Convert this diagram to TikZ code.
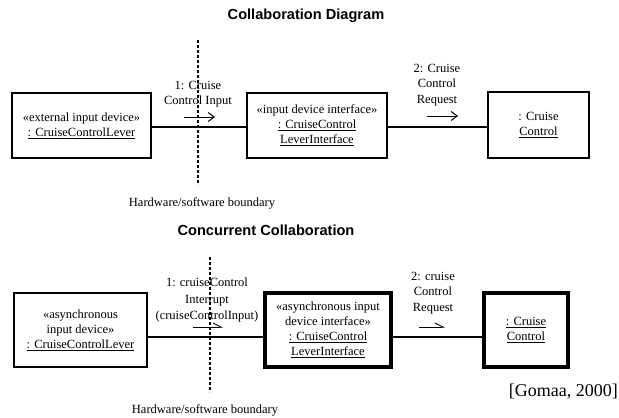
\documentclass[tikz,border=0pt]{standalone}
\usepackage{fontspec}
\setmainfont{Liberation Serif}
\setsansfont{Liberation Sans}
\usetikzlibrary{arrows.meta}

\begin{document}
\begin{tikzpicture}[x=1pt,y=-1pt,
  obj/.style={draw,line width=1.3pt,align=center,inner sep=0pt,
    font=\fontsize{12.5}{15}\selectfont},
  active/.style={obj,line width=3.2pt},
  lbl/.style={align=center,inner sep=0pt,font=\fontsize{12.5}{15.5}\selectfont},
  heading/.style={inner sep=0pt,font=\sffamily\bfseries\fontsize{14.6}{16}\selectfont},
  link/.style={line width=1.1pt},
  boundary/.style={line width=1.3pt,dash pattern=on 3pt off 2pt},
  msg/.style={line width=1pt,-{Straight Barb[length=6pt,width=9pt]}},
  asyncmsg/.style={line width=1pt,-{Straight Barb[left,length=8pt,width=8pt]}}
]
\useasboundingbox (0,0) rectangle (619,418);

% ---------- sequential collaboration ----------
\node[heading] (t1) at (306,16) {Collaboration Diagram};

\node[obj,minimum width=139pt,minimum height=65pt] (lever) at (81.5,125.5)
  {«external input device»\\\underline{: CruiseControlLever}};
\node[obj,minimum width=140pt,minimum height=65pt] (ldi) at (317,125.5)
  {«input device interface»\\\underline{: CruiseControl}\\\underline{LeverInterface}};
\node[obj,minimum width=101pt,minimum height=66pt] (cc) at (538.5,125)
  {: Cruise\\\underline{Control}};

\coordinate (row1) at (0,127);
\draw[link] (lever.east |- row1) -- (ldi.west |- row1);
\draw[link] (ldi.east |- row1) -- (cc.west |- row1);

\coordinate (hw1top) at (198,40);
\coordinate (hw1bot) at (198,185);
\draw[boundary] (hw1top) -- (hw1bot);
\node[lbl] (hw1) at (202,203) {Hardware/software boundary};

\node[lbl] (m1) at (198,94) {1: Cruise\\Control Input};
\coordinate (m1s) at (184,117);
\coordinate (m1e) at (215,117);
\draw[msg] (m1s) -- (m1e);

\node[lbl] (m2) at (437,85) {2: Cruise\\Control\\Request};
\coordinate (m2s) at (427,116);
\coordinate (m2e) at (458,116);
\draw[msg] (m2s) -- (m2e);

% ---------- concurrent collaboration ----------
\node[heading] (t2) at (266,230) {Concurrent Collaboration};

\node[obj,minimum width=133pt,minimum height=74pt] (alever) at (80.5,330)
  {«asynchronous\\input device»\\\underline{: CruiseControlLever}};
\node[active,minimum width=126pt,minimum height=74pt] (aldi) at (328,330)
  {«asynchronous input\\device interface»\\\underline{: CruiseControl}\\\underline{LeverInterface}};
\node[active,minimum width=84pt,minimum height=74pt] (acc) at (526,330)
  {\underline{: Cruise}\\\underline{Control}};

\coordinate (row2) at (0,337);
\draw[link] (alever.east |- row2) -- (aldi.west |- row2);
\draw[link] (aldi.east |- row2) -- (acc.west |- row2);

\coordinate (hw2top) at (210,257);
\coordinate (hw2bot) at (210,392);
\draw[boundary] (hw2top) -- (hw2bot);
\node[lbl] (hw2) at (205,410) {Hardware/software boundary};

\node[lbl,font=\fontsize{12.5}{16.5}\selectfont] (m3) at (207,300)
  {1: cruiseControl\\Interrupt\\(cruiseControlInput)};
\coordinate (m3s) at (193,327);
\coordinate (m3e) at (223,327);
\draw[asyncmsg] (m3s) -- (m3e);

\node[lbl] (m4) at (433,293) {2: cruise\\Control\\Request};
\coordinate (m4s) at (419,327);
\coordinate (m4e) at (445,327);
\draw[asyncmsg] (m4s) -- (m4e);

\node[anchor=east,inner sep=0pt,font=\fontsize{18}{20}\selectfont] (ref) at (618,392)
  {[Gomaa, 2000]};

\end{tikzpicture}
\end{document}
